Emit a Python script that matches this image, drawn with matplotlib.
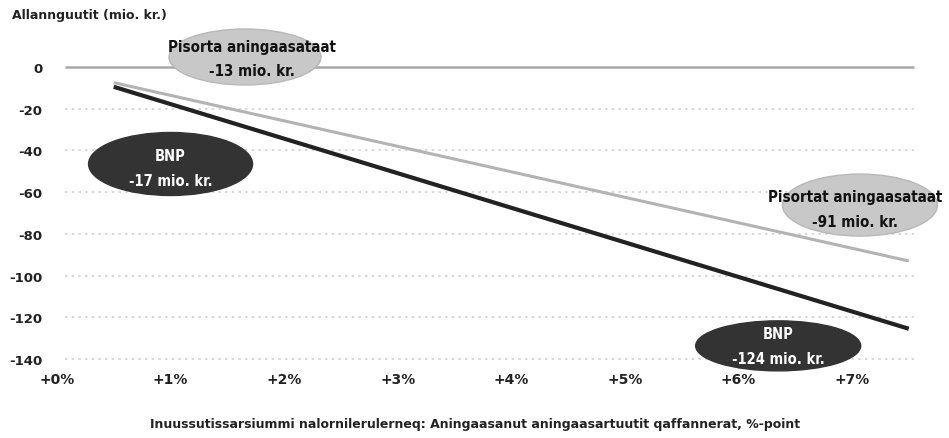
import matplotlib.pyplot as plt
from matplotlib.patches import Ellipse

# data
x_pts = [0.5, 7.5]
pisortat = [-7.5, -93]
bnp = [-9.5, -125.5]

y_ticks = [0, -20, -40, -60, -80, -100, -120, -140]
x_ticks = [0, 1, 2, 3, 4, 5, 6, 7]
x_labels = ['+0%', '+1%', '+2%', '+3%', '+4%', '+5%', '+6%', '+7%']

plt.rcParams['font.family'] = ['DejaVu Sans']
plt.rcParams['font.weight'] = 'bold'

fig = plt.figure(figsize=(9.49, 4.39), dpi=100)
W, H = 949, 439
# axes placed so that x=0 -> px 57, x=7 -> px 852, y=0 -> py 68, y=-140 -> py 360
xpx = (852 - 57) / 7
ypx = (360 - 68) / 140
xlim = (-0.06, 7.6)
ylim = (-142, 5)
left = 57 + xlim[0] * xpx
right = 57 + xlim[1] * xpx
top = 68 - ylim[1] * ypx
bottom = 68 - ylim[0] * ypx
ax = fig.add_axes([left / W, 1 - bottom / H, (right - left) / W, (bottom - top) / H])
ax.set_xlim(*xlim)
ax.set_ylim(*ylim)
for s in ax.spines.values():
    s.set_visible(False)

# gridlines and zero line
ax.hlines(y_ticks[1:], 0.07, 7.55, colors='#d2d2d2', linestyles=(0, (1.5, 2.5)), linewidth=1.2, zorder=1)
ax.hlines(0, 0.07, 7.55, colors='#a8a8a8', linewidth=1.8, zorder=2)

ax.plot(x_pts, pisortat, color='#b3b3b3', linewidth=2.2, solid_capstyle='butt', zorder=3)
ax.plot(x_pts, bnp, color='#222222', linewidth=3.0, solid_capstyle='butt', zorder=3)

ax.set_yticks(y_ticks)
ax.set_yticklabels([str(v) for v in y_ticks], fontsize=9.5, fontweight='bold', color='#222222')
ax.set_xticks(x_ticks)
ax.set_xticklabels(x_labels, fontsize=10, fontweight='bold', color='#222222')
ax.tick_params(axis='both', length=0)
ax.tick_params(axis='y', pad=5.5)
ax.tick_params(axis='x', pad=6)

def px_w(p):
    return p / xpx

def px_h(p):
    return p / ypx

light_txt = dict(ha='center', va='center', fontsize=10.8, fontweight='heavy', fontstretch='condensed',
                 color='#111111', linespacing=1.8, zorder=5, clip_on=False)
dark_txt = dict(ha='center', va='center', fontsize=10.5, fontweight='bold', fontstretch='condensed',
                color='white', linespacing=1.8, zorder=5, clip_on=False)

# annotations
ax.add_patch(Ellipse((1.655, 4.8), px_w(152), px_h(56), facecolor='#c8c8c8', edgecolor='#b8b8b8',
                     linewidth=1, zorder=4, clip_on=False))
ax.text(1.717, 4.1, 'Pisorta aningaasataat\n-13 mio. kr.', **light_txt)

ax.add_patch(Ellipse((1.0, -46.5), px_w(164), px_h(63), facecolor='#333333', edgecolor='#333333',
                     zorder=4, clip_on=False))
ax.text(1.0, -48.5, 'BNP\n-17 mio. kr.', **dark_txt)

ax.add_patch(Ellipse((7.07, -66.2), px_w(155), px_h(62), facecolor='#c8c8c8', edgecolor='#b8b8b8',
                     linewidth=1, zorder=4, clip_on=False))
ax.text(7.03, -68.1, 'Pisortat aningaasataat\n-91 mio. kr.', **light_txt)

ax.add_patch(Ellipse((6.35, -133.7), px_w(165), px_h(50), facecolor='#333333', edgecolor='#333333',
                     zorder=4, clip_on=False))
ax.text(6.35, -133.7, 'BNP\n-124 mio. kr.', **dark_txt)

fig.text(12 / W, 1 - 16 / H, 'Allannguutit (mio. kr.)', ha='left', va='center', fontsize=9,
         fontweight='bold', color='#222222')
fig.text(475 / W, 1 - 425 / H,
         'Inuussutissarsiummi nalornilerulerneq: Aningaasanut aningaasartuutit qaffannerat, %-point',
         ha='center', va='center', fontsize=9, fontweight='bold', color='#222222')

fig.savefig('out.png', dpi=100)
